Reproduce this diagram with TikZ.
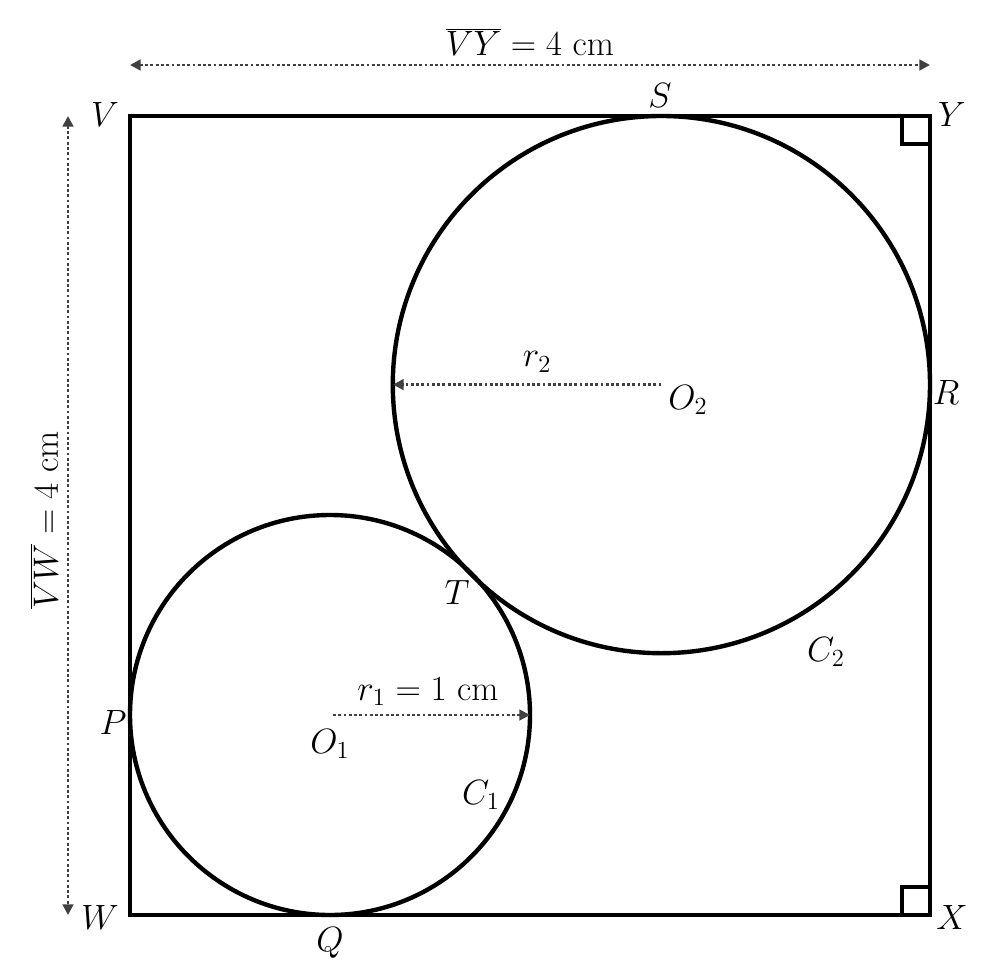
\RequirePackage{fix-cm}
\documentclass[tikz,border=0pt]{standalone}
\usetikzlibrary{arrows.meta}
\begin{document}
\begin{tikzpicture}[x=0.02cm,y=-0.02cm,
  edge/.style={line width=2.5pt},
  dim/.style={draw=black!75,line width=1.5pt,dash pattern=on 1.6pt off 1.4pt,-{Triangle[length=6pt,width=6pt]}},
  dimboth/.style={draw=black!75,line width=1.5pt,dash pattern=on 1.6pt off 1.4pt,{Triangle[length=6pt,width=6pt]}-{Triangle[length=6pt,width=6pt]}},
  lbl/.style={font=\fontsize{20}{24}\selectfont,inner sep=0pt}]
\useasboundingbox (0,0) rectangle (991,980);
% corners
\coordinate (V) at (130,116);
\coordinate (Y) at (930,116);
\coordinate (X) at (930,915);
\coordinate (W) at (130,915);
\coordinate (O1) at (330,715);
\coordinate (O2) at (661.4,384.6);
\coordinate (E1) at (530,715);
\coordinate (E2) at (393,384.6);
\coordinate (A1) at (130,65);
\coordinate (A2) at (930,65);
\coordinate (B1) at (68,116);
\coordinate (B2) at (68,915);
% square
\draw[edge,line join=miter] (V) -- (Y) -- (X) -- (W) -- cycle;
% right angle marks
\draw[edge] (902,116) -- (902,144) -- (930,144);
\draw[edge] (902,915) -- (902,887) -- (930,887);
% circles
\draw[edge] (O1) circle[radius=200];
\draw[edge] (O2) circle[radius=268.6];
% dimension arrows
\draw[dimboth] (A1) -- (A2);
\draw[dimboth] (B1) -- (B2);
\draw[dim] (O2) -- (E2);
\draw[dim] (333,715) -- (E1);
% labels
\node[lbl] (lV) at (105,114) {$V$};
\node[lbl] (lY) at (952,114) {$Y$};
\node[lbl] (lW) at (100,917) {$W$};
\node[lbl] (lX) at (952,917) {$X$};
\node[lbl] (lS) at (660,95) {$S$};
\node[lbl] (lR) at (946,392) {$R$};
\node[lbl] (lP) at (113,722) {$P$};
\node[lbl] (lQ) at (330,943) {$Q$};
\node[lbl] (lT) at (457,592) {$T$};
\node[lbl] (lC2) at (826,652) {$C_2$};
\node[lbl] (lC1) at (481,795) {$C_1$};
\node[lbl] (lO2) at (688,400) {$O_2$};
\node[lbl] (lO1) at (330,744) {$O_1$};
\node[lbl] (lr2) at (537,362) {$r_2$};
\node[lbl] (lr1) at (428,692) {$r_1 = 1\ \mathrm{cm}$};
\node[lbl] (lVY) at (530,42) {$\overline{VY} = 4\ \mathrm{cm}$};
\node[lbl,rotate=90] (lVW) at (44,520) {$\overline{VW} = 4\ \mathrm{cm}$};
\end{tikzpicture}
\end{document}
